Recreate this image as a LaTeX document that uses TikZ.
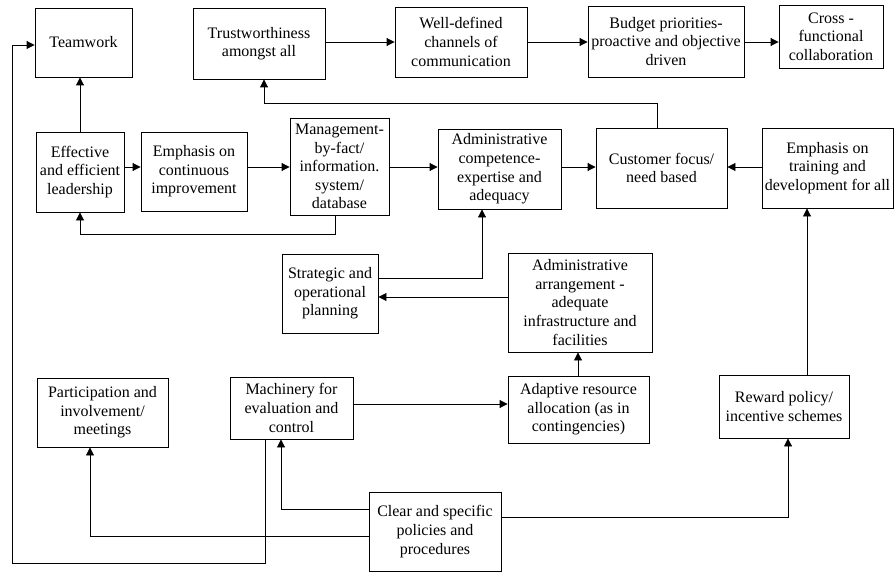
\documentclass[tikz,border=0pt]{standalone}
\usepackage{fontspec}
\setmainfont{Liberation Serif}
\usetikzlibrary{arrows.meta}
\begin{document}
\begin{tikzpicture}[x=1pt,y=-1pt,
  box/.style={draw, line width=0.9pt, align=center, inner sep=0pt,
    font=\fontsize{16}{18.6}\selectfont},
  arr/.style={line width=0.9pt, -{Triangle[length=8pt,width=8pt]}},
  ln/.style={line width=0.9pt}]
\useasboundingbox (0,0) rectangle (896,572);
% nodes
\node[box, minimum width=97pt, minimum height=69pt] (team) at (83.5,42.5) {Teamwork};
\node[box, minimum width=132pt, minimum height=71pt] (trust) at (259,43.5) {Trustworthiness\\amongst all};
\node[box, minimum width=132pt, minimum height=70pt] (well) at (461,42) {Well-defined\\channels of\\communication};
\node[box, minimum width=156pt, minimum height=71pt] (budget) at (666,41.5) {Budget priorities-\\proactive and objective\\driven};
\node[box, minimum width=104pt, minimum height=63pt] (cross) at (831,36.5) {Cross -\\functional\\collaboration};
\node[box, minimum width=88pt, minimum height=80pt] (eff) at (80,172) {Effective\\and efficient\\leadership};
\node[box, minimum width=106pt, minimum height=79pt] (cont) at (194,171.5) {Emphasis on\\continuous\\improvement};
\node[box, minimum width=99pt, minimum height=97pt] (mgmt) at (339.5,166.5) {Management-\\by-fact/\\information.\\system/\\database};
\node[box, minimum width=123pt, minimum height=80pt] (admc) at (499.5,169) {Administrative\\competence-\\expertise and\\adequacy};
\node[box, minimum width=131pt, minimum height=80pt] (cust) at (661.5,168) {Customer focus/\\need based};
\node[box, minimum width=131pt, minimum height=80pt] (train) at (827.5,168) {Emphasis on\\training and\\development for all};
\node[box, minimum width=96pt, minimum height=79pt] (strat) at (330,293.5) {Strategic and\\operational\\planning};
\node[box, minimum width=144pt, minimum height=99pt] (arrg) at (580,302.5) {Administrative\\arrangement -\\adequate\\infrastructure and\\facilities};
\node[box, minimum width=131pt, minimum height=69pt] (part) at (102.5,412.5) {Participation and\\involvement/\\meetings};
\node[box, minimum width=123pt, minimum height=62pt] (mach) at (291.5,408) {Machinery for\\evaluation and\\control};
\node[box, minimum width=141pt, minimum height=67pt] (adapt) at (578.5,409.5) {Adaptive resource\\allocation (as in\\contingencies)};
\node[box, minimum width=130pt, minimum height=63pt] (reward) at (784,406.5) {Reward policy/\\incentive schemes};
\node[box, minimum width=132pt, minimum height=79pt] (clear) at (435,531.5) {Clear and specific\\policies and\\procedures};
% connectors
\draw[arr] (trust.east |- 0,42) -- (well.west |- 0,42);
\draw[arr] (well.east |- 0,42) -- (budget.west |- 0,42);
\draw[arr] (budget.east |- 0,42) -- (cross.west |- 0,42);
\draw[arr] (eff.north) -- (team.south -| eff.north);
\draw[arr] (eff.east |- 0,167) -- (cont.west |- 0,167);
\draw[arr] (cont.east |- 0,167) -- (mgmt.west |- 0,167);
\draw[arr] (mgmt.east |- 0,167) -- (admc.west |- 0,167);
\draw[arr] (admc.east |- 0,167) -- (cust.west |- 0,167);
\draw[arr] (train.west |- 0,167) -- (cust.east |- 0,167);
\draw[arr] (cust.north -| 657,0) -- (657,103) -| (trust.south -| 264,0);
\draw[arr] (mgmt.south -| 335,0) -- (335,234) -| (eff.south);
\draw[arr] (strat.east |- 0,278) -| (admc.south -| 482,0);
\draw[arr] (arrg.west |- 0,297) -- (strat.east |- 0,297);
\draw[arr] (adapt.north -| 578,0) -- (arrg.south -| 578,0);
\draw[arr] (mach.east |- 0,404) -- (adapt.west |- 0,404);
\draw[arr] (reward.north -| 807,0) -- (train.south -| 807,0);
\draw[arr] (clear.west |- 0,509) -| (mach.south -| 281,0);
\draw[arr] (clear.west |- 0,536) -| (part.south -| 90,0);
\draw[arr] (clear.east |- 0,517) -| (reward.south -| 788,0);
\draw[arr] (mach.south -| 265,0) -- (265,563) -- (12,563) -- (12,45) -- (team.west |- 0,45);
\end{tikzpicture}
\end{document}
